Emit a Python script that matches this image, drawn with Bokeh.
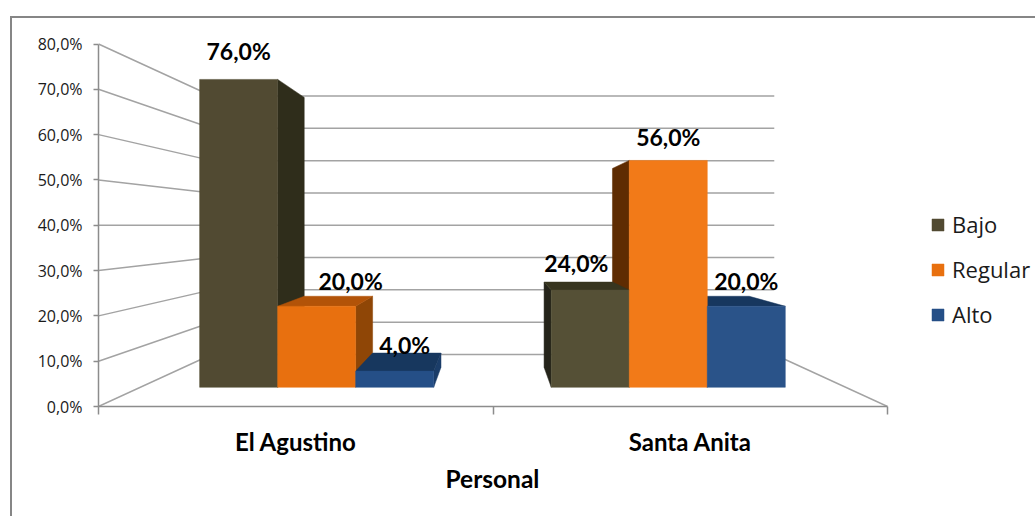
from bokeh.plotting import figure
from bokeh.models import (ColumnDataSource, FixedTicker, Legend, LegendItem, InlineStyleSheet, Title)
from bokeh.core.properties import value
from bokeh.embed import file_html
from bokeh.resources import INLINE

# ---- data ----
categories = ["El Agustino", "Santa Anita"]
series_names = ["Bajo", "Regular", "Alto"]
bajo = [76.0, 24.0]
regular = [20.0, 56.0]
alto = [4.0, 20.0]
y_ticks = [0, 10, 20, 30, 40, 50, 60, 70, 80]
y_tick_labels = ["0,0%", "10,0%", "20,0%", "30,0%", "40,0%", "50,0%", "60,0%", "70,0%", "80,0%"]
axis_title = "Personal"

# ---- styles ----
front_colors = {"Bajo": ["#514a32", "#555036"], "Regular": ["#e8700f", "#f27a18"], "Alto": ["#254f87", "#2a5389"]}
side_colors = {"Bajo": ["#2f2d1b", "#25241a"], "Regular": ["#8f4606", "#5e2c02"], "Alto": ["#1b3d69", "#1b3d69"]}
top_colors = {"Bajo": ["#38341f", "#37351f"], "Regular": ["#b25308", "#b25308"], "Alto": ["#17375e", "#17375e"]}
GRID = "#a3a3a3"
AXIS = "#8c8c8c"

# perspective model: planes scale about (x=1, y=40)
PIV_X, PIV_Y = 1.0, 40.0
K_FRONT, K_BACK, K_WALL = 0.894, 0.7837, 0.713
BAR_W = 0.2212
GROUP_CENTERS = [0.5, 1.497]

def px(x, k):
    return PIV_X + (x - PIV_X) * k

def py(v, k):
    return PIV_Y + (v - PIV_Y) * k

p = figure(width=1035, height=516, x_range=(0, 937 / 394.5), y_range=(0, 366 / 4.53125),
           output_backend="svg", toolbar_location=None,
           min_border_left=98, min_border_right=0, min_border_top=40, min_border_bottom=110,
           background_fill_color="white", border_fill_color="white", outline_line_color=None)
p.grid.visible = False

# outer chart frame (its right and bottom sides lie outside the picture)
p.stylesheets = [InlineStyleSheet(css=(
    ":host::after{content:'';position:absolute;left:10px;top:16px;right:0;bottom:0;"
    "border-left:2px solid #868686;border-top:2px solid #868686;pointer-events:none;}"))]

# walls
xs, ys = [], []
for t in y_ticks:
    xs.append([px(0, 1), px(0, K_WALL), px(2, K_WALL)])
    ys.append([py(t, 1), py(t, K_WALL), py(t, K_WALL)])
xs.append([px(2, K_WALL), px(2, 1)])
ys.append([py(0, K_WALL), py(0, 1)])
p.multi_line(xs, ys, line_color=GRID, line_width=1.5)

# bars
table = {"Bajo": bajo, "Regular": regular, "Alto": alto}
face_x, face_y, face_c = [], [], []
for g, center in enumerate(GROUP_CENTERS):
    order = series_names if g == 0 else series_names[::-1]
    for name in order:
        i = series_names.index(name)
        x0 = center + (i - 1.5) * BAR_W
        x1 = x0 + BAR_W
        v = table[name][g]
        sx = x1 if g == 0 else x0
        face_x.append([px(sx, K_FRONT), px(sx, K_BACK), px(sx, K_BACK), px(sx, K_FRONT)])
        face_y.append([py(0, K_FRONT), py(0, K_BACK), py(v, K_BACK), py(v, K_FRONT)])
        face_c.append(side_colors[name][g])
        if v < PIV_Y:  # a bar's top is only seen when it lies below the eye level
            face_x.append([px(x0, K_FRONT), px(x1, K_FRONT), px(x1, K_BACK), px(x0, K_BACK)])
            face_y.append([py(v, K_FRONT), py(v, K_FRONT), py(v, K_BACK), py(v, K_BACK)])
            face_c.append(top_colors[name][g])
p.patches(face_x, face_y, fill_color=face_c, line_color=face_c, line_width=0.5)

items = []
for i, name in enumerate(series_names):
    lefts = [px(c + (i - 1.5) * BAR_W, K_FRONT) for c in GROUP_CENTERS]
    rights = [px(c + (i - 0.5) * BAR_W, K_FRONT) for c in GROUP_CENTERS]
    src = ColumnDataSource(dict(left=lefts, right=rights,
                                top=[py(v, K_FRONT) for v in table[name]],
                                bottom=[py(0, K_FRONT)] * 2,
                                c=front_colors[name]))
    r = p.quad(left="left", right="right", top="top", bottom="bottom", source=src,
               fill_color="c", line_color="c", line_width=0.5)
    items.append(LegendItem(label=name, renderers=[r], index=0))

# data labels
lab_x_off = {"Bajo": [0, -14], "Regular": [34, 0], "Alto": [10, 0]}
lab_y_off = {"Bajo": [-28, -27], "Regular": [-25, -23], "Alto": [-26, -25]}
lx, ly, lt, xo, yo = [], [], [], [], []
for i, name in enumerate(series_names):
    for g, c in enumerate(GROUP_CENTERS):
        lx.append(px(c + (i - 1) * BAR_W, K_FRONT))
        ly.append(py(table[name][g], K_FRONT))
        lt.append(f"{table[name][g]:.1f}%".replace(".", ","))
        xo.append(lab_x_off[name][g])
        yo.append(lab_y_off[name][g])
p.text(lx, ly, text=lt, x_offset=xo, y_offset=yo, text_align="center", text_baseline="middle",
       text_font=value("Lato"), text_font_style="bold", text_font_size="23px", text_color="#000000")

# axes
ya = p.yaxis[0]
ya.ticker = FixedTicker(ticks=y_ticks)
ya.major_label_overrides = dict(zip(y_ticks, y_tick_labels))
ya.bounds = (0, 80)
ya.axis_line_color = AXIS
ya.axis_line_width = 1.5
ya.major_tick_line_color = AXIS
ya.major_tick_line_width = 1.5
ya.major_tick_in = 0
ya.major_tick_out = 5
ya.minor_tick_line_color = None
ya.major_label_standoff = 11
ya.major_label_text_font = "Open Sans"
ya.major_label_text_font_size = "16px"
ya.major_label_text_color = "#1a1a1a"

xa = p.xaxis[0]
xa.ticker = FixedTicker(ticks=[0.5, 1.5], minor_ticks=[0, 1, 2])
xa.major_label_overrides = dict(zip([0.5, 1.5], categories))
xa.bounds = (0, 2)
xa.axis_line_color = AXIS
xa.axis_line_width = 1.5
xa.major_tick_line_color = None
xa.major_tick_in = 0
xa.major_tick_out = 0
xa.minor_tick_line_color = AXIS
xa.minor_tick_line_width = 1.5
xa.minor_tick_in = 0
xa.minor_tick_out = 8
xa.major_label_standoff = 12
xa.major_label_text_font = "Lato"
xa.major_label_text_font_style = "bold"
xa.major_label_text_font_size = "24px"
xa.major_label_text_color = "#000000"

# axis title, centred under the axis rather than under the wider frame
p.add_layout(Title(text=axis_title, align="left", offset=347, standoff=6,
                   text_font="Lato", text_font_style="bold", text_font_size="24.5px",
                   text_color="#000000"), "below")

# legend
legend = Legend(items=items, location=(832, 77), orientation="vertical",
                padding=0, margin=0, spacing=15, border_line_color=None,
                background_fill_alpha=0, glyph_width=15, glyph_height=15,
                label_standoff=7, label_height=18,
                label_text_font="Open Sans", label_text_font_size="22px", label_text_color="#1a1a1a")
p.add_layout(legend)

open("out.html", "w").write(file_html(p, INLINE))
